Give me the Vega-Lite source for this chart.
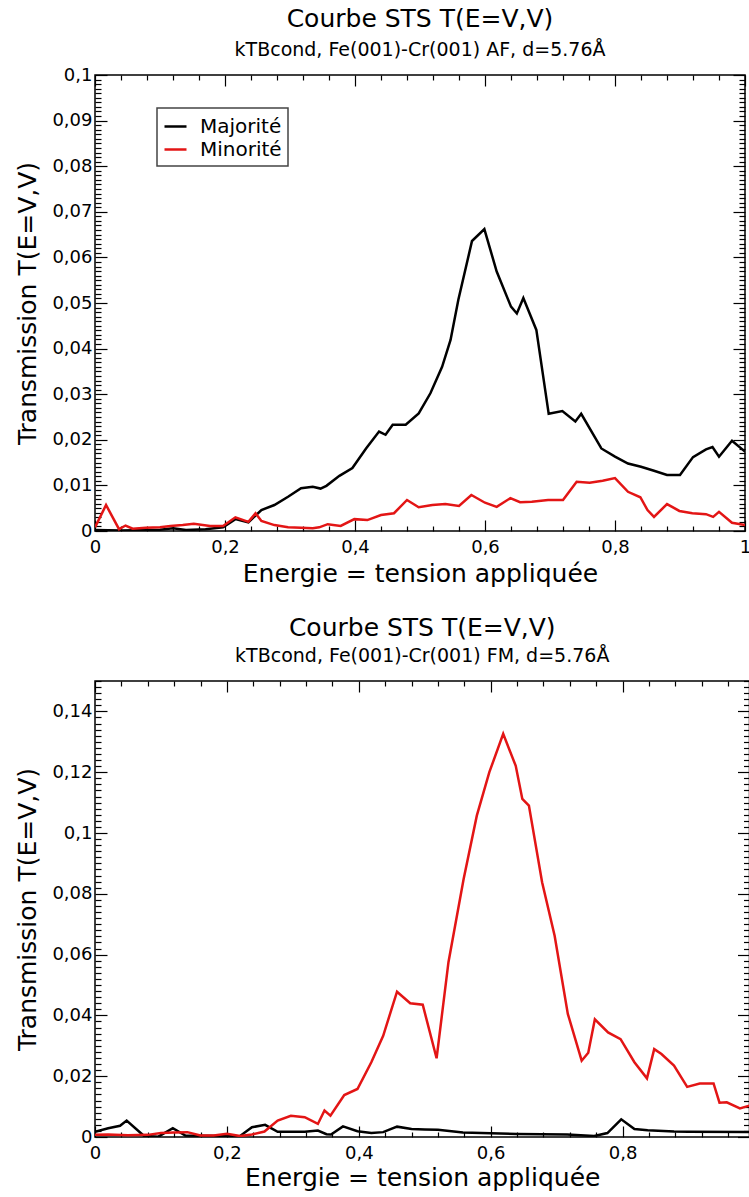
{
  "$schema": "https://vega.github.io/schema/vega-lite/v6.json",
  "padding": {"left": 15, "top": 6, "right": 0, "bottom": 0},
  "background": "white",
  "spacing": 28,
  "datasets": {
    "af": [
      {"E": 0, "T": 0.0002, "s": "Majorité"},
      {"E": 0.04, "T": 0.0001, "s": "Majorité"},
      {"E": 0.08, "T": 0.0002, "s": "Majorité"},
      {"E": 0.1, "T": 0.0003, "s": "Majorité"},
      {"E": 0.12, "T": 0.0006, "s": "Majorité"},
      {"E": 0.14, "T": 0.0002, "s": "Majorité"},
      {"E": 0.17, "T": 0.0004, "s": "Majorité"},
      {"E": 0.197, "T": 0.0008, "s": "Majorité"},
      {"E": 0.216, "T": 0.0026, "s": "Majorité"},
      {"E": 0.236, "T": 0.0019, "s": "Majorité"},
      {"E": 0.256, "T": 0.0046, "s": "Majorité"},
      {"E": 0.276, "T": 0.0057, "s": "Majorité"},
      {"E": 0.297, "T": 0.0075, "s": "Majorité"},
      {"E": 0.317, "T": 0.0094, "s": "Majorité"},
      {"E": 0.335, "T": 0.0097, "s": "Majorité"},
      {"E": 0.347, "T": 0.0093, "s": "Majorité"},
      {"E": 0.356, "T": 0.0099, "s": "Majorité"},
      {"E": 0.376, "T": 0.0121, "s": "Majorité"},
      {"E": 0.396, "T": 0.0138, "s": "Majorité"},
      {"E": 0.417, "T": 0.0181, "s": "Majorité"},
      {"E": 0.437, "T": 0.0218, "s": "Majorité"},
      {"E": 0.447, "T": 0.0211, "s": "Majorité"},
      {"E": 0.458, "T": 0.0233, "s": "Majorité"},
      {"E": 0.478, "T": 0.0233, "s": "Majorité"},
      {"E": 0.498, "T": 0.0258, "s": "Majorité"},
      {"E": 0.516, "T": 0.0302, "s": "Majorité"},
      {"E": 0.534, "T": 0.036, "s": "Majorité"},
      {"E": 0.547, "T": 0.0419, "s": "Majorité"},
      {"E": 0.559, "T": 0.0507, "s": "Majorité"},
      {"E": 0.58, "T": 0.0636, "s": "Majorité"},
      {"E": 0.599, "T": 0.0662, "s": "Majorité"},
      {"E": 0.618, "T": 0.0569, "s": "Majorité"},
      {"E": 0.64, "T": 0.0492, "s": "Majorité"},
      {"E": 0.649, "T": 0.0477, "s": "Majorité"},
      {"E": 0.659, "T": 0.0511, "s": "Majorité"},
      {"E": 0.679, "T": 0.0441, "s": "Majorité"},
      {"E": 0.698, "T": 0.0257, "s": "Majorité"},
      {"E": 0.719, "T": 0.0263, "s": "Majorité"},
      {"E": 0.739, "T": 0.024, "s": "Majorité"},
      {"E": 0.748, "T": 0.0257, "s": "Majorité"},
      {"E": 0.779, "T": 0.0181, "s": "Majorité"},
      {"E": 0.8, "T": 0.0163, "s": "Majorité"},
      {"E": 0.82, "T": 0.0148, "s": "Majorité"},
      {"E": 0.84, "T": 0.0141, "s": "Majorité"},
      {"E": 0.86, "T": 0.0132, "s": "Majorité"},
      {"E": 0.88, "T": 0.0123, "s": "Majorité"},
      {"E": 0.9, "T": 0.0123, "s": "Majorité"},
      {"E": 0.92, "T": 0.0162, "s": "Majorité"},
      {"E": 0.94, "T": 0.0179, "s": "Majorité"},
      {"E": 0.95, "T": 0.0184, "s": "Majorité"},
      {"E": 0.96, "T": 0.0163, "s": "Majorité"},
      {"E": 0.98, "T": 0.0198, "s": "Majorité"},
      {"E": 1.0, "T": 0.0174, "s": "Majorité"},
      {"E": 0, "T": 0.0008, "s": "Minorité"},
      {"E": 0.017, "T": 0.0057, "s": "Minorité"},
      {"E": 0.037, "T": 0.0004, "s": "Minorité"},
      {"E": 0.047, "T": 0.0012, "s": "Minorité"},
      {"E": 0.058, "T": 0.0005, "s": "Minorité"},
      {"E": 0.078, "T": 0.0007, "s": "Minorité"},
      {"E": 0.1, "T": 0.0008, "s": "Minorité"},
      {"E": 0.116, "T": 0.0011, "s": "Minorité"},
      {"E": 0.135, "T": 0.0013, "s": "Minorité"},
      {"E": 0.152, "T": 0.0016, "s": "Minorité"},
      {"E": 0.177, "T": 0.0011, "s": "Minorité"},
      {"E": 0.197, "T": 0.0011, "s": "Minorité"},
      {"E": 0.216, "T": 0.003, "s": "Minorité"},
      {"E": 0.236, "T": 0.002, "s": "Minorité"},
      {"E": 0.247, "T": 0.0039, "s": "Minorité"},
      {"E": 0.256, "T": 0.0022, "s": "Minorité"},
      {"E": 0.276, "T": 0.0013, "s": "Minorité"},
      {"E": 0.297, "T": 0.0008, "s": "Minorité"},
      {"E": 0.317, "T": 0.0007, "s": "Minorité"},
      {"E": 0.335, "T": 0.0006, "s": "Minorité"},
      {"E": 0.345, "T": 0.0008, "s": "Minorité"},
      {"E": 0.358, "T": 0.0015, "s": "Minorité"},
      {"E": 0.378, "T": 0.0011, "s": "Minorité"},
      {"E": 0.399, "T": 0.0026, "s": "Minorité"},
      {"E": 0.419, "T": 0.0024, "s": "Minorité"},
      {"E": 0.44, "T": 0.0035, "s": "Minorité"},
      {"E": 0.46, "T": 0.0039, "s": "Minorité"},
      {"E": 0.48, "T": 0.0068, "s": "Minorité"},
      {"E": 0.498, "T": 0.0052, "s": "Minorité"},
      {"E": 0.519, "T": 0.0057, "s": "Minorité"},
      {"E": 0.539, "T": 0.0059, "s": "Minorité"},
      {"E": 0.56, "T": 0.0055, "s": "Minorité"},
      {"E": 0.579, "T": 0.0079, "s": "Minorité"},
      {"E": 0.6, "T": 0.0062, "s": "Minorité"},
      {"E": 0.618, "T": 0.0053, "s": "Minorité"},
      {"E": 0.639, "T": 0.0072, "s": "Minorité"},
      {"E": 0.654, "T": 0.0063, "s": "Minorité"},
      {"E": 0.672, "T": 0.0064, "s": "Minorité"},
      {"E": 0.697, "T": 0.0068, "s": "Minorité"},
      {"E": 0.72, "T": 0.0068, "s": "Minorité"},
      {"E": 0.741, "T": 0.0108, "s": "Minorité"},
      {"E": 0.761, "T": 0.0106, "s": "Minorité"},
      {"E": 0.781, "T": 0.011, "s": "Minorité"},
      {"E": 0.8, "T": 0.0116, "s": "Minorité"},
      {"E": 0.82, "T": 0.0086, "s": "Minorité"},
      {"E": 0.839, "T": 0.0074, "s": "Minorité"},
      {"E": 0.85, "T": 0.0046, "s": "Minorité"},
      {"E": 0.86, "T": 0.0031, "s": "Minorité"},
      {"E": 0.88, "T": 0.0059, "s": "Minorité"},
      {"E": 0.899, "T": 0.0044, "s": "Minorité"},
      {"E": 0.919, "T": 0.0039, "s": "Minorité"},
      {"E": 0.94, "T": 0.0037, "s": "Minorité"},
      {"E": 0.951, "T": 0.0031, "s": "Minorité"},
      {"E": 0.96, "T": 0.0042, "s": "Minorité"},
      {"E": 0.98, "T": 0.0018, "s": "Minorité"},
      {"E": 1.0, "T": 0.0013, "s": "Minorité"}
    ],
    "fm": [
      {"E": 0, "T": 0.0017, "s": "Majorité"},
      {"E": 0.02, "T": 0.0029, "s": "Majorité"},
      {"E": 0.038, "T": 0.0037, "s": "Majorité"},
      {"E": 0.048, "T": 0.0054, "s": "Majorité"},
      {"E": 0.074, "T": 0.0004, "s": "Majorité"},
      {"E": 0.096, "T": 0.0001, "s": "Majorité"},
      {"E": 0.118, "T": 0.0029, "s": "Majorité"},
      {"E": 0.137, "T": 0.0005, "s": "Majorité"},
      {"E": 0.16, "T": 0.0004, "s": "Majorité"},
      {"E": 0.2, "T": 0.0003, "s": "Majorité"},
      {"E": 0.219, "T": 0.0002, "s": "Majorité"},
      {"E": 0.238, "T": 0.0032, "s": "Majorité"},
      {"E": 0.258, "T": 0.004, "s": "Majorité"},
      {"E": 0.277, "T": 0.0017, "s": "Majorité"},
      {"E": 0.318, "T": 0.0017, "s": "Majorité"},
      {"E": 0.338, "T": 0.0021, "s": "Majorité"},
      {"E": 0.351, "T": 0.0009, "s": "Majorité"},
      {"E": 0.358, "T": 0.0008, "s": "Majorité"},
      {"E": 0.376, "T": 0.0035, "s": "Majorité"},
      {"E": 0.398, "T": 0.0019, "s": "Majorité"},
      {"E": 0.419, "T": 0.0013, "s": "Majorité"},
      {"E": 0.437, "T": 0.0016, "s": "Majorité"},
      {"E": 0.458, "T": 0.0034, "s": "Majorité"},
      {"E": 0.48, "T": 0.0026, "s": "Majorité"},
      {"E": 0.5, "T": 0.0025, "s": "Majorité"},
      {"E": 0.52, "T": 0.0024, "s": "Majorité"},
      {"E": 0.558, "T": 0.0015, "s": "Majorité"},
      {"E": 0.6, "T": 0.0012, "s": "Majorité"},
      {"E": 0.64, "T": 0.001, "s": "Majorité"},
      {"E": 0.716, "T": 0.0008, "s": "Majorité"},
      {"E": 0.757, "T": 0.0003, "s": "Majorité"},
      {"E": 0.777, "T": 0.0013, "s": "Majorité"},
      {"E": 0.798, "T": 0.0058, "s": "Majorité"},
      {"E": 0.818, "T": 0.0026, "s": "Majorité"},
      {"E": 0.838, "T": 0.0022, "s": "Majorité"},
      {"E": 0.878, "T": 0.0018, "s": "Majorité"},
      {"E": 0.9, "T": 0.0017, "s": "Majorité"},
      {"E": 1.0, "T": 0.0016, "s": "Majorité"},
      {"E": 0, "T": 0.0007, "s": "Minorité"},
      {"E": 0.02, "T": 0.0008, "s": "Minorité"},
      {"E": 0.05, "T": 0.0006, "s": "Minorité"},
      {"E": 0.08, "T": 0.0007, "s": "Minorité"},
      {"E": 0.1, "T": 0.0013, "s": "Minorité"},
      {"E": 0.12, "T": 0.0015, "s": "Minorité"},
      {"E": 0.14, "T": 0.0016, "s": "Minorité"},
      {"E": 0.16, "T": 0.0005, "s": "Minorité"},
      {"E": 0.18, "T": 0.0005, "s": "Minorité"},
      {"E": 0.2, "T": 0.0011, "s": "Minorité"},
      {"E": 0.22, "T": 0.0003, "s": "Minorité"},
      {"E": 0.238, "T": 0.0008, "s": "Minorité"},
      {"E": 0.257, "T": 0.0018, "s": "Minorité"},
      {"E": 0.277, "T": 0.0054, "s": "Minorité"},
      {"E": 0.297, "T": 0.007, "s": "Minorité"},
      {"E": 0.318, "T": 0.0065, "s": "Minorité"},
      {"E": 0.338, "T": 0.0043, "s": "Minorité"},
      {"E": 0.348, "T": 0.0087, "s": "Minorité"},
      {"E": 0.357, "T": 0.007, "s": "Minorité"},
      {"E": 0.378, "T": 0.0138, "s": "Minorité"},
      {"E": 0.398, "T": 0.0158, "s": "Minorité"},
      {"E": 0.419, "T": 0.0246, "s": "Minorité"},
      {"E": 0.437, "T": 0.0333, "s": "Minorité"},
      {"E": 0.458, "T": 0.0478, "s": "Minorité"},
      {"E": 0.478, "T": 0.044, "s": "Minorité"},
      {"E": 0.497, "T": 0.0435, "s": "Minorité"},
      {"E": 0.518, "T": 0.0259, "s": "Minorité"},
      {"E": 0.536, "T": 0.0575, "s": "Minorité"},
      {"E": 0.559, "T": 0.0849, "s": "Minorité"},
      {"E": 0.579, "T": 0.1057, "s": "Minorité"},
      {"E": 0.598, "T": 0.12, "s": "Minorité"},
      {"E": 0.619, "T": 0.1326, "s": "Minorité"},
      {"E": 0.638, "T": 0.1221, "s": "Minorité"},
      {"E": 0.648, "T": 0.1112, "s": "Minorité"},
      {"E": 0.658, "T": 0.109, "s": "Minorité"},
      {"E": 0.678, "T": 0.0838, "s": "Minorité"},
      {"E": 0.697, "T": 0.0662, "s": "Minorité"},
      {"E": 0.717, "T": 0.0405, "s": "Minorité"},
      {"E": 0.738, "T": 0.0251, "s": "Minorité"},
      {"E": 0.748, "T": 0.0277, "s": "Minorité"},
      {"E": 0.758, "T": 0.0387, "s": "Minorité"},
      {"E": 0.778, "T": 0.0344, "s": "Minorité"},
      {"E": 0.797, "T": 0.0322, "s": "Minorité"},
      {"E": 0.818, "T": 0.0246, "s": "Minorité"},
      {"E": 0.837, "T": 0.0193, "s": "Minorité"},
      {"E": 0.848, "T": 0.0289, "s": "Minorité"},
      {"E": 0.859, "T": 0.0273, "s": "Minorité"},
      {"E": 0.878, "T": 0.0235, "s": "Minorité"},
      {"E": 0.898, "T": 0.0165, "s": "Minorité"},
      {"E": 0.917, "T": 0.0176, "s": "Minorité"},
      {"E": 0.938, "T": 0.0176, "s": "Minorité"},
      {"E": 0.947, "T": 0.0113, "s": "Minorité"},
      {"E": 0.958, "T": 0.0114, "s": "Minorité"},
      {"E": 0.978, "T": 0.0094, "s": "Minorité"},
      {"E": 1.0, "T": 0.0108, "s": "Minorité"}
    ]
  },
  "vconcat": [
    {
      "title": {"text": "Courbe STS T(E=V,V)", "subtitle": "kTBcond, Fe(001)-Cr(001) AF, d=5.76Å"},
      "width": 650,
      "height": 456,
      "data": {"name": "af"},
      "resolve": {"axis": {"x": "independent", "y": "independent"}},
      "layer": [
        {
          "transform": [{"filter": "datum.s === 'Majorité'"}],
          "mark": {"type": "line", "strokeWidth": 2.5, "clip": true},
          "encoding": {
            "x": {"field": "E", "type": "quantitative", "scale": {"domain": [0, 1], "nice": false, "zero": false},
              "axis": {"orient": "bottom", "title": "Energie = tension appliquée",
                "values": [0,0.04,0.08,0.12,0.16,0.2,0.24,0.28,0.32,0.36,0.4,0.44,0.48,0.52,0.56,0.6,0.64,0.68,0.72,0.76,0.8,0.84,0.88,0.92,0.96,1],
                "labelExpr": "abs(datum.value*5 - round(datum.value*5)) < 1e-6 ? replace(format(datum.value, '.1~f'), '.', ',') : ''",
                "tickSize": {"condition": {"test": "abs(datum.value*5 - round(datum.value*5)) < 1e-6", "value": -11}, "value": -5},
                "labelPadding": 18, "titlePadding": -1}},
            "y": {"field": "T", "type": "quantitative", "scale": {"domain": [0, 0.1], "nice": false},
              "axis": {"orient": "left", "title": "Transmission T(E=V,V)", "tickCount": 100,
                "labelExpr": "abs(datum.value*100 - round(datum.value*100)) < 1e-6 ? replace(format(datum.value, '.2~f'), '.', ',') : ''",
                "tickSize": {"condition": {"test": "abs(datum.value*100 - round(datum.value*100)) < 1e-6", "value": -12}, "value": -6},
                "labelPadding": 15, "titlePadding": 11}},
            "color": {"field": "s", "type": "nominal", "scale": {"domain": ["Majorité", "Minorité"], "range": ["#000000", "#e31515"]},
              "legend": {"title": null, "orient": "none", "legendX": 62, "legendY": 33}}
          }
        },
        {
          "transform": [{"filter": "datum.s === 'Minorité'"}],
          "mark": {"type": "line", "strokeWidth": 2.5, "clip": true},
          "encoding": {
            "x": {"field": "E", "type": "quantitative", "scale": {"domain": [0, 1], "nice": false, "zero": false},
              "axis": {"orient": "top", "title": null, "labels": false,
                "values": [0,0.04,0.08,0.12,0.16,0.2,0.24,0.28,0.32,0.36,0.4,0.44,0.48,0.52,0.56,0.6,0.64,0.68,0.72,0.76,0.8,0.84,0.88,0.92,0.96,1],
                "tickSize": {"condition": {"test": "abs(datum.value*5 - round(datum.value*5)) < 1e-6", "value": -11}, "value": -5}}},
            "y": {"field": "T", "type": "quantitative", "scale": {"domain": [0, 0.1], "nice": false},
              "axis": {"orient": "right", "title": null, "labels": false, "tickCount": 100,
                "tickSize": {"condition": {"test": "abs(datum.value*100 - round(datum.value*100)) < 1e-6", "value": -12}, "value": -6}}},
            "color": {"field": "s", "type": "nominal", "scale": {"domain": ["Majorité", "Minorité"], "range": ["#000000", "#e31515"]},
              "legend": {"title": null, "orient": "none", "legendX": 62, "legendY": 33}}
          }
        }
      ]
    },
    {
      "title": {"text": "Courbe STS T(E=V,V)", "subtitle": "kTBcond, Fe(001)-Cr(001) FM, d=5.76Å", "subtitlePadding": 6},
      "width": 654.5,
      "height": 456,
      "data": {"name": "fm"},
      "resolve": {"axis": {"x": "independent", "y": "independent"}},
      "layer": [
        {
          "transform": [{"filter": "datum.s === 'Majorité'"}],
          "mark": {"type": "line", "strokeWidth": 2.5, "clip": true},
          "encoding": {
            "x": {"field": "E", "type": "quantitative", "scale": {"domain": [0, 0.9925], "nice": false, "zero": false},
              "axis": {"orient": "bottom", "title": "Energie = tension appliquée",
                "values": [0,0.04,0.08,0.12,0.16,0.2,0.24,0.28,0.32,0.36,0.4,0.44,0.48,0.52,0.56,0.6,0.64,0.68,0.72,0.76,0.8,0.84,0.88,0.92,0.96],
                "labelExpr": "abs(datum.value*5 - round(datum.value*5)) < 1e-6 ? replace(format(datum.value, '.1~f'), '.', ',') : ''",
                "tickSize": {"condition": {"test": "abs(datum.value*5 - round(datum.value*5)) < 1e-6", "value": -11}, "value": -5},
                "labelPadding": 18, "titlePadding": -3}},
            "y": {"field": "T", "type": "quantitative", "scale": {"domain": [0, 0.15], "nice": false},
              "axis": {"orient": "left", "title": "Transmission T(E=V,V)", "tickCount": 75,
                "labelExpr": "abs(datum.value*50 - round(datum.value*50)) < 1e-6 ? replace(format(datum.value, '.2~f'), '.', ',') : ''",
                "tickSize": {"condition": {"test": "abs(datum.value*50 - round(datum.value*50)) < 1e-6", "value": -12}, "value": -6},
                "labelPadding": 15, "titlePadding": 11}},
            "color": {"field": "s", "type": "nominal", "scale": {"domain": ["Majorité", "Minorité"], "range": ["#000000", "#e31515"]},
              "legend": {"title": null, "orient": "none", "legendX": 66, "legendY": 32}}
          }
        },
        {
          "transform": [{"filter": "datum.s === 'Minorité'"}],
          "mark": {"type": "line", "strokeWidth": 2.5, "clip": true},
          "encoding": {
            "x": {"field": "E", "type": "quantitative", "scale": {"domain": [0, 0.9925], "nice": false, "zero": false},
              "axis": {"orient": "top", "title": null, "labels": false,
                "values": [0,0.04,0.08,0.12,0.16,0.2,0.24,0.28,0.32,0.36,0.4,0.44,0.48,0.52,0.56,0.6,0.64,0.68,0.72,0.76,0.8,0.84,0.88,0.92,0.96],
                "tickSize": {"condition": {"test": "abs(datum.value*5 - round(datum.value*5)) < 1e-6", "value": -11}, "value": -5}}},
            "y": {"field": "T", "type": "quantitative", "scale": {"domain": [0, 0.15], "nice": false},
              "axis": {"orient": "right", "title": null, "labels": false, "tickCount": 75,
                "tickSize": {"condition": {"test": "abs(datum.value*50 - round(datum.value*50)) < 1e-6", "value": -12}, "value": -6}}},
            "color": {"field": "s", "type": "nominal", "scale": {"domain": ["Majorité", "Minorité"], "range": ["#000000", "#e31515"]},
              "legend": {"title": null, "orient": "none", "legendX": 66, "legendY": 32}}
          }
        }
      ]
    }
  ],
  "config": {
    "font": "DejaVu Sans",
    "view": {"stroke": "#000000", "strokeWidth": 1.5},
    "title": {"font": "DejaVu Sans", "fontSize": 25, "fontWeight": "normal", "color": "#000000", "anchor": "middle", "frame": "group", "offset": 6,
      "subtitleFont": "DejaVu Sans", "subtitleFontSize": 19, "subtitleColor": "#000000", "subtitlePadding": 9},
    "axis": {"grid": false, "domain": false, "ticks": true, "tickColor": "#000000", "tickWidth": 1.2, "zindex": 1,
      "labelFont": "DejaVu Sans", "labelFontSize": 18, "labelColor": "#000000",
      "labelOverlap": false, "labelFlush": false, "labelBound": false,
      "titleFont": "DejaVu Sans", "titleFontSize": 25, "titleFontWeight": "normal", "titleColor": "#000000"},
    "legend": {"labelFont": "DejaVu Sans", "labelFontSize": 20, "labelColor": "#000000",
      "symbolType": "stroke", "symbolSize": 484, "symbolStrokeWidth": 2.5,
      "strokeColor": "#444444", "strokeWidth": 1.5, "fillColor": "#ffffff", "padding": 6, "rowPadding": 0, "labelOffset": 12}
  }
}
